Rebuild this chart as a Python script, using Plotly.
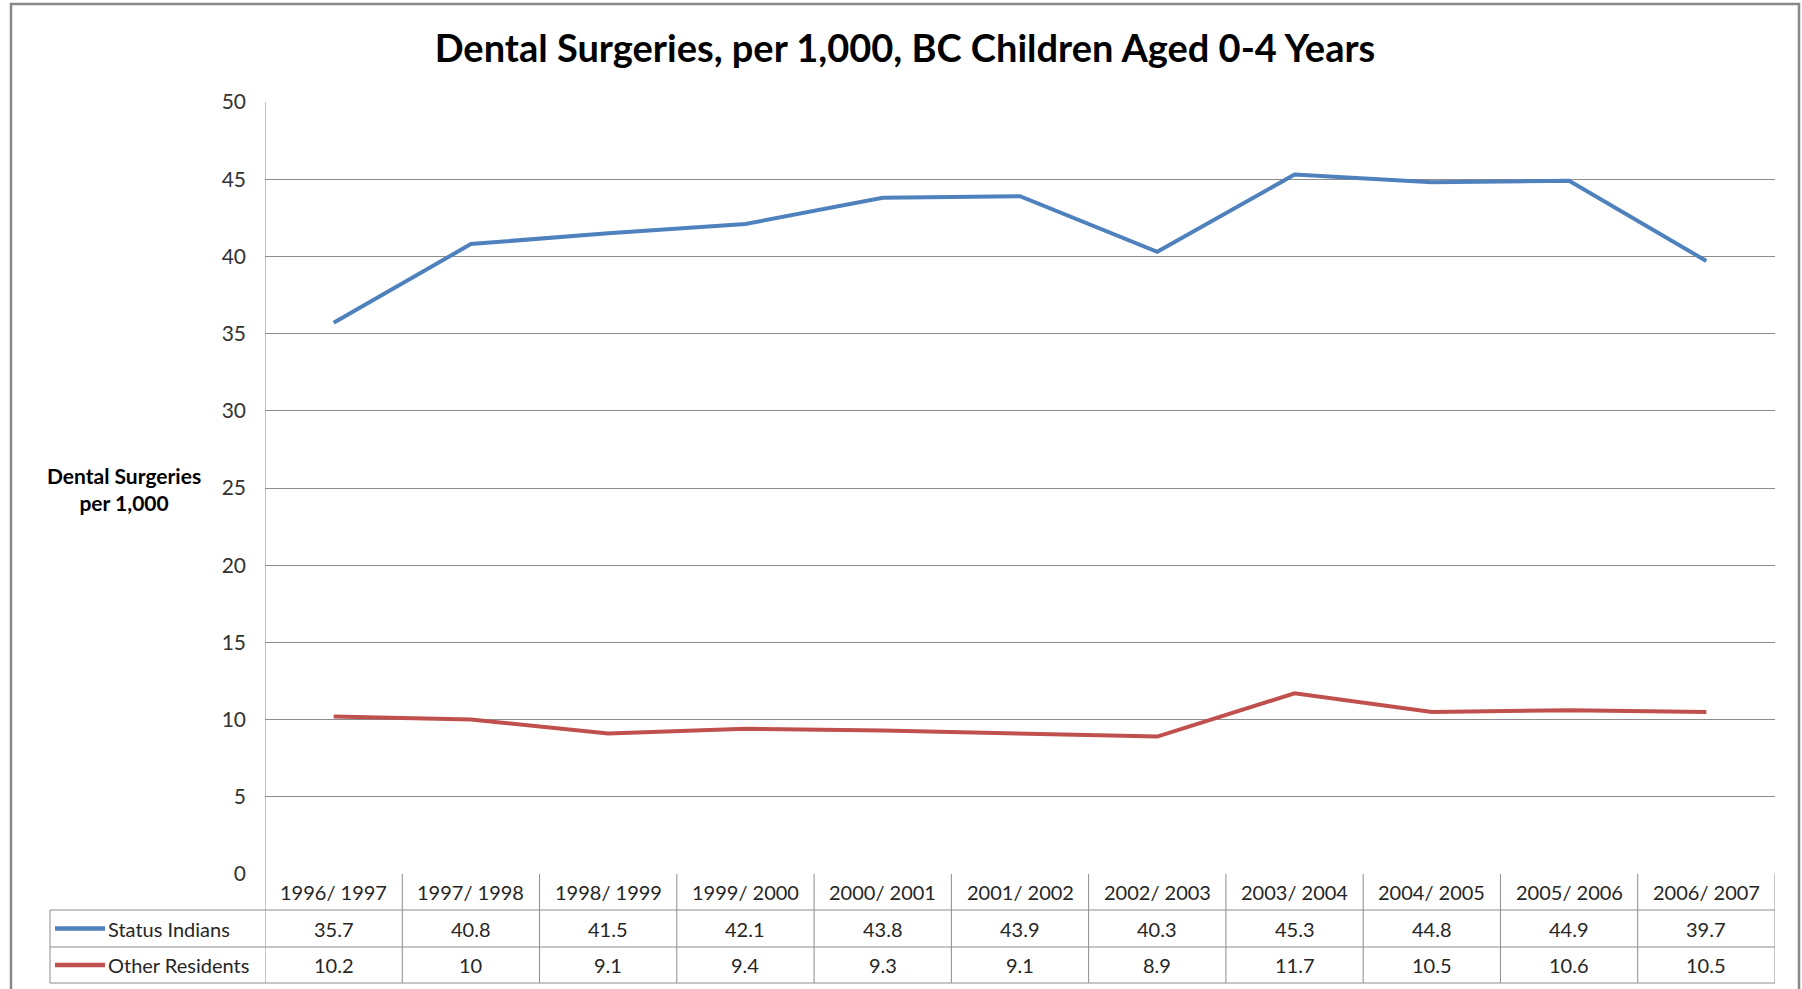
import plotly.graph_objects as go

categories = ["1996/ 1997", "1997/ 1998", "1998/ 1999", "1999/ 2000", "2000/ 2001",
              "2001/ 2002", "2002/ 2003", "2003/ 2004", "2004/ 2005", "2005/ 2006", "2006/ 2007"]
status_indians = [35.7, 40.8, 41.5, 42.1, 43.8, 43.9, 40.3, 45.3, 44.8, 44.9, 39.7]
other_residents = [10.2, 10, 9.1, 9.4, 9.3, 9.1, 8.9, 11.7, 10.5, 10.6, 10.5]
series_names = ["Status Indians", "Other Residents"]
y_ticks = [0, 5, 10, 15, 20, 25, 30, 35, 40, 45, 50]

W, H = 1802, 989
L, R, T, B = 265, 1775, 102, 874
PW, PH = R - L, B - T

BLUE = "#4F81BD"
RED = "#C0504D"
GRID = "#8C8C8C"
FONT = "Lato"
TXT = "#262626"


def fx(px):
    return (px - L) / PW


def fy(py):
    return (B - py) / PH


fig = go.Figure()
fig.add_trace(go.Scatter(x=categories, y=status_indians, mode="lines", name=series_names[0],
                         line=dict(color=BLUE, width=4), showlegend=False))
fig.add_trace(go.Scatter(x=categories, y=other_residents, mode="lines", name=series_names[1],
                         line=dict(color=RED, width=4), showlegend=False))

shapes = []
# outer chart border
shapes.append(dict(type="rect", xref="paper", yref="paper", x0=fx(11), x1=fx(1799), y0=fy(1100), y1=fy(4),
                   line=dict(color="#888888", width=2.5), layer="below"))
# table lines
LEG_L = 50
row_lines = [910, 947, 983]
for py in row_lines:
    shapes.append(dict(type="line", xref="paper", yref="paper", x0=fx(LEG_L), x1=fx(R), y0=fy(py), y1=fy(py),
                       line=dict(color=GRID, width=1)))
n = len(categories)
for i in range(n + 1):
    top = T if i == 0 else B
    shapes.append(dict(type="line", xref="x", yref="paper", x0=i - 0.5, x1=i - 0.5, y0=fy(top), y1=fy(983),
                       line=dict(color=GRID, width=1)))
shapes.append(dict(type="line", xref="paper", yref="paper", x0=fx(LEG_L), x1=fx(LEG_L), y0=fy(910), y1=fy(983),
                   line=dict(color=GRID, width=1)))

annotations = []
hdr_y = (B + 910) / 2
row_ys = [(910 + 947) / 2, (947 + 983) / 2]
for i, c in enumerate(categories):
    annotations.append(dict(x=c, xref="x", y=fy(hdr_y), yref="paper", text=c, showarrow=False,
                            font=dict(family=FONT, size=20, color=TXT), xanchor="center", yanchor="middle"))
for vals, ry in zip([status_indians, other_residents], row_ys):
    for c, v in zip(categories, vals):
        annotations.append(dict(x=c, xref="x", y=fy(ry), yref="paper", text=f"{v:g}", showarrow=False,
                                font=dict(family=FONT, size=20, color=TXT), xanchor="center", yanchor="middle"))
for name, col, ry in zip(series_names, [BLUE, RED], row_ys):
    shapes.append(dict(type="line", xref="paper", yref="paper", x0=fx(55), x1=fx(105), y0=fy(ry), y1=fy(ry),
                       line=dict(color=col, width=4.5)))
    annotations.append(dict(x=fx(106), xref="paper", y=fy(ry), yref="paper", text=name, showarrow=False,
                            font=dict(family=FONT, size=20, color=TXT), xanchor="left", yanchor="middle"))
# y-axis title
annotations.append(dict(x=fx(124), xref="paper", y=fy(489), yref="paper",
                        text="<b>Dental Surgeries</b><br><b>per 1,000</b>", showarrow=False,
                        font=dict(family=FONT, size=21, color="#000000"), xanchor="center", yanchor="middle",
                        align="center"))

fig.update_layout(
    width=W, height=H,
    margin=dict(l=L, r=W - R, t=T, b=H - B, pad=0),
    paper_bgcolor="white", plot_bgcolor="white",
    title=dict(text="<b>Dental Surgeries, per 1,000, BC Children Aged 0-4 Years</b>",
               x=905 / W, xanchor="center", y=1 - 49 / H, yanchor="middle",
               font=dict(family=FONT, size=38, color="#000000")),
    xaxis=dict(type="category", range=[-0.5, n - 0.5], showticklabels=False, showgrid=False,
               zeroline=False, showline=False, ticks=""),
    yaxis=dict(range=[0, 50], tickvals=y_ticks, showgrid=True, gridcolor=GRID, gridwidth=1,
               zeroline=False, showline=False, ticks="", ticklabelstandoff=18,
               tickfont=dict(family=FONT, size=21, color="#333333")),
    shapes=shapes,
    annotations=annotations,
    showlegend=False,
)

fig.write_html("out.html")
